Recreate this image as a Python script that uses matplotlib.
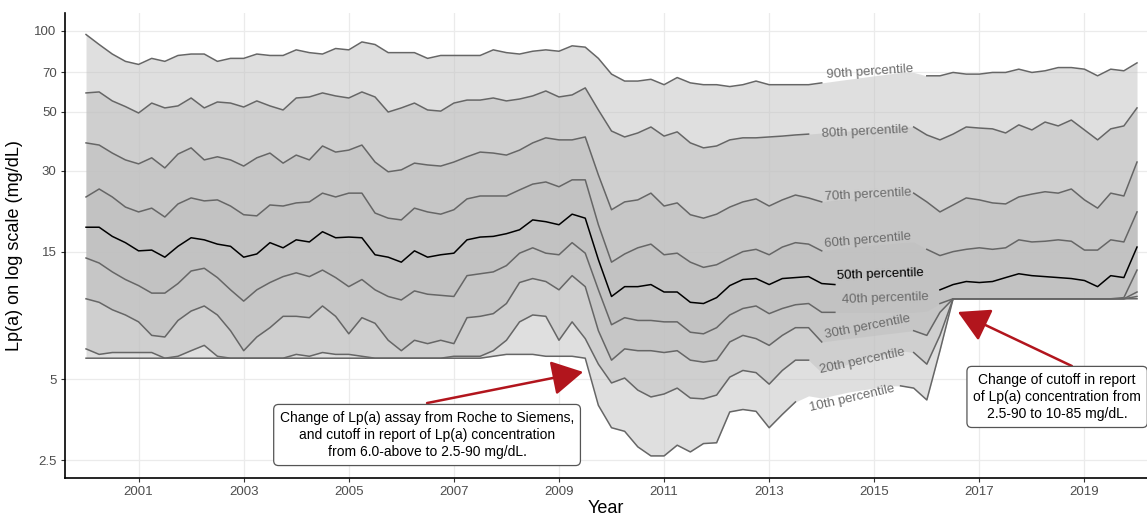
import numpy as np
import matplotlib
matplotlib.use('Agg')
import matplotlib.pyplot as plt
from matplotlib.ticker import NullLocator, FixedLocator

plt.rcParams['font.family'] = ['Liberation Sans', 'DejaVu Sans']

# quarterly time grid, 2000.0 .. 2020.0
years = np.arange(2000, 2020.01, 0.25)

p90 = [97, 89, 82, 77, 75, 79, 77, 81, 82, 82,
       77, 79, 79, 82, 81, 81, 85, 83, 82, 86,
       85, 91, 89, 83, 83, 83, 79, 81, 81, 81,
       81, 85, 83, 82, 84, 85, 84, 88, 87, 79,
       69, 65, 65, 66, 63, 67, 64, 63, 63, 62,
       63, 65, 63, 63, 63, 63, 64, 65, 66, 67,
       68, 69, 70, 70, 68, 68, 70, 69, 69, 70,
       70, 72, 70, 71, 73, 73, 72, 68, 72, 71, 76]
p80 = [58.7, 59.2, 54.8, 52.2, 49.4, 53.8, 51.6, 52.5, 56.2, 51.6,
       54.3, 53.8, 52.0, 54.8, 52.5, 50.7, 56.2, 56.7, 58.7, 57.2,
       56.2, 59.2, 56.7, 49.8, 51.6, 53.8, 50.7, 50.2, 53.8, 55.2,
       55.2, 56.2, 54.8, 55.7, 57.2, 59.7, 56.7, 57.7, 61.3, 50.7,
       42.3, 40.2, 41.6, 43.8, 40.5, 42.0, 38.2, 36.6, 37.2, 39.2,
       39.9, 39.9, 40.2, 40.5, 40.9, 41.2, 41.6, 42.0, 42.3, 42.7,
       43.1, 43.4, 43.8, 43.8, 40.9, 39.2, 41.2, 43.8, 43.4, 43.1,
       41.6, 44.6, 42.7, 45.7, 44.2, 46.5, 42.7, 39.2, 43.1, 44.2, 51.6]
p70 = [38.2, 37.5, 35.0, 33.0, 31.9, 33.6, 30.8, 34.7, 36.6, 33.0,
       33.9, 33.0, 31.3, 33.6, 35.0, 32.1, 34.4, 33.0, 37.2, 35.3,
       35.9, 37.5, 32.4, 29.8, 30.3, 32.1, 31.6, 31.3, 32.4, 33.9,
       35.3, 35.0, 34.4, 35.9, 38.2, 39.9, 39.2, 39.2, 40.2, 29.0,
       21.5, 23.0, 23.4, 24.8, 22.2, 22.8, 20.6, 20.0, 20.7, 22.0,
       23.0, 23.6, 22.2, 23.4, 24.4, 23.8, 23.0, 23.4, 23.6, 23.8,
       24.0, 24.2, 24.4, 24.8, 23.0, 21.1, 22.4, 23.8, 23.4, 22.8,
       22.6, 24.0, 24.6, 25.1, 24.8, 25.7, 23.4, 21.8, 24.8, 24.2, 32.4]
p60 = [24.0, 25.7, 24.0, 22.0, 21.1, 21.8, 20.2, 22.6, 23.8, 23.2,
       23.4, 22.2, 20.6, 20.4, 22.4, 22.2, 22.8, 23.0, 24.8, 24.0,
       24.8, 24.8, 20.9, 20.0, 19.7, 21.8, 21.1, 20.7, 21.5, 23.6,
       24.2, 24.2, 24.2, 25.5, 26.8, 27.3, 26.2, 27.8, 27.8, 18.9,
       13.7, 14.7, 15.5, 16.0, 14.6, 14.8, 13.7, 13.1, 13.4, 14.2,
       15.0, 15.3, 14.6, 15.6, 16.2, 16.0, 15.1, 15.3, 15.6, 15.7,
       15.9, 16.0, 16.2, 16.3, 15.3, 14.5, 15.0, 15.3, 15.5, 15.3,
       15.5, 16.6, 16.3, 16.4, 16.6, 16.4, 15.2, 15.2, 16.6, 16.3, 21.1]
p50 = [18.5, 18.5, 17.1, 16.2, 15.1, 15.2, 14.3, 15.7, 16.9, 16.6,
       16.0, 15.7, 14.3, 14.7, 16.2, 15.5, 16.6, 16.3, 17.8, 16.9,
       17.0, 16.9, 14.6, 14.3, 13.7, 15.1, 14.3, 14.6, 14.8, 16.6,
       17.0, 17.1, 17.5, 18.1, 19.7, 19.4, 18.9, 20.7, 20.0, 14.0,
       10.2, 11.1, 11.1, 11.3, 10.6, 10.6, 9.7, 9.6, 10.1, 11.2,
       11.8, 11.9, 11.3, 11.9, 12.0, 12.1, 11.4, 11.3, 11.2, 11.1,
       11.1, 11.1, 11.2, 11.3, 11.5, 10.8, 11.3, 11.6, 11.5, 11.6,
       12.0, 12.4, 12.2, 12.1, 12.0, 11.9, 11.7, 11.1, 12.2, 12.0, 15.6]
p40 = [14.2, 13.6, 12.6, 11.8, 11.2, 10.5, 10.5, 11.4, 12.7, 13.0,
       12.0, 10.8, 9.8, 10.8, 11.5, 12.1, 12.5, 12.1, 12.8, 12.0,
       11.1, 11.8, 10.8, 10.2, 9.9, 10.7, 10.4, 10.3, 10.2, 12.2,
       12.4, 12.6, 13.3, 14.8, 15.5, 14.8, 14.6, 16.2, 14.8, 10.8,
       8.0, 8.5, 8.3, 8.3, 8.2, 8.2, 7.5, 7.4, 7.8, 8.7,
       9.2, 9.4, 8.8, 9.2, 9.5, 9.6, 8.9, 8.9, 8.9, 8.9,
       8.9, 8.9, 8.9, 8.9, 9.0, 9.6, 10.0, 10.0, 10.0, 10.0,
       10.0, 10.0, 10.0, 10.0, 10.0, 10.0, 10.0, 10.0, 10.0, 10.1, 12.8]
p30 = [10.0, 9.7, 9.1, 8.7, 8.2, 7.3, 7.2, 8.3, 9.0, 9.4,
       8.7, 7.6, 6.4, 7.2, 7.8, 8.6, 8.6, 8.5, 9.4, 8.6,
       7.4, 8.5, 8.1, 7.0, 6.4, 7.0, 6.8, 7.0, 6.8, 8.5,
       8.6, 8.8, 9.6, 11.5, 11.9, 11.6, 10.8, 12.2, 11.1, 7.6,
       5.9, 6.5, 6.4, 6.4, 6.3, 6.4, 5.9, 5.8, 5.9, 6.9,
       7.3, 7.1, 6.7, 7.3, 7.8, 7.8, 6.9, 7.0, 7.1, 7.2,
       7.3, 7.4, 7.5, 7.6, 7.3, 8.9, 10.0, 10.0, 10.0, 10.0,
       10.0, 10.0, 10.0, 10.0, 10.0, 10.0, 10.0, 10.0, 10.0, 10.0, 10.6]
p20 = [6.5, 6.2, 6.3, 6.3, 6.3, 6.3, 6.0, 6.1, 6.4, 6.7,
       6.1, 6.0, 6.0, 6.0, 6.0, 6.0, 6.2, 6.1, 6.3, 6.2,
       6.2, 6.1, 6.0, 6.0, 6.0, 6.0, 6.0, 6.0, 6.1, 6.1,
       6.1, 6.4, 7.0, 8.2, 8.7, 8.6, 7.0, 8.2, 7.1, 5.7,
       4.85, 5.06, 4.56, 4.30, 4.41, 4.64, 4.26, 4.23, 4.37, 5.1,
       5.4, 5.3, 4.8, 5.4, 5.9, 5.9, 5.3, 5.5, 5.7, 5.9,
       6.1, 6.2, 6.4, 6.3, 5.7, 7.3, 10.0, 10.0, 10.0, 10.0,
       10.0, 10.0, 10.0, 10.0, 10.0, 10.0, 10.0, 10.0, 10.0, 10.0, 10.2]
p10 = [6.0, 6.0, 6.0, 6.0, 6.0, 6.0, 6.0, 6.0, 6.0, 6.0,
       6.0, 6.0, 6.0, 6.0, 6.0, 6.0, 6.0, 6.0, 6.0, 6.0,
       6.0, 6.0, 6.0, 6.0, 6.0, 6.0, 6.0, 6.0, 6.0, 6.0,
       6.0, 6.1, 6.2, 6.2, 6.2, 6.1, 6.1, 6.1, 6.0, 4.0,
       3.3, 3.2, 2.8, 2.59, 2.59, 2.84, 2.68, 2.88, 2.9, 3.78,
       3.86, 3.8, 3.3, 3.7, 4.12, 4.34, 4.26, 4.37, 4.48, 4.56,
       4.64, 4.73, 4.73, 4.64, 4.19, 6.4, 10.0, 10.0, 10.0, 10.0,
       10.0, 10.0, 10.0, 10.0, 10.0, 10.0, 10.0, 10.0, 10.0, 10.0, 10.0]

names = ['10th percentile', '20th percentile', '30th percentile', '40th percentile',
         '50th percentile', '60th percentile', '70th percentile', '80th percentile',
         '90th percentile']
series = [p10, p20, p30, p40, p50, p60, p70, p80, p90]

# label placement (centre x, centre y, angle) and the gap cut in the line under it
label_pos = [(2014.58, 4.26, 13), (2014.77, 5.86, 12), (2014.88, 7.85, 11),
             (2015.20, 10.0, 2), (2015.11, 12.3, 2), (2014.88, 16.6, 5),
             (2014.88, 24.4, 3), (2014.82, 42.0, 3), (2014.92, 70.3, 4)]
gaps = [(2013.74, 2015.40), (2013.98, 2015.63), (2014.04, 2015.72),
        (2014.35, 2016.06), (2014.25, 2016.02), (2014.06, 2015.78),
        (2014.04, 2015.72), (2013.98, 2015.68), (2014.06, 2015.78)]

fig = plt.figure(figsize=(11.47, 5.19), dpi=100)
ax = fig.add_axes([65/1147, 41/519, 1082/1147, 465/519])
ax.set_yscale('log')

# stacked ribbons
for lo, hi in [(p10, p90), (p20, p80), (p30, p70), (p40, p60)]:
    ax.fill_between(years, lo, hi, color='#bebebe', alpha=0.48, lw=0, zorder=1)

for i, vals in enumerate(series):
    y = np.array(vals, dtype=float)
    g0, g1 = gaps[i]
    y[(years > g0) & (years < g1)] = np.nan
    col = 'black' if i == 4 else '#666666'
    ax.plot(years, y, color=col, lw=1.1, zorder=3)
    lx, ly, rot = label_pos[i]
    tcol = 'black' if i == 4 else '#6b6b6b'
    ax.text(lx, ly, names[i], rotation=rot, rotation_mode='anchor',
            ha='center', va='center', fontsize=9.5, color=tcol, zorder=4)

# annotations
arrow_col = '#B2151D'
ax.annotate('', xy=(2009.46, 5.33), xytext=(2006.49, 4.08),
            arrowprops=dict(arrowstyle='-|>,head_length=0.97,head_width=0.54',
                            color=arrow_col, lw=1.8, mutation_scale=20,
                            shrinkA=0, shrinkB=0), zorder=5)
ax.annotate('', xy=(2016.59, 8.93), xytext=(2018.76, 5.61),
            arrowprops=dict(arrowstyle='-|>,head_length=0.97,head_width=0.54',
                            color=arrow_col, lw=1.8, mutation_scale=20,
                            shrinkA=0, shrinkB=0), zorder=5)

box = dict(boxstyle='round,pad=0.45,rounding_size=0.35', fc='white', ec='#555555', lw=0.9)
ax.text(2006.49, 3.10, 'Change of Lp(a) assay from Roche to Siemens,\n'
        'and cutoff in report of Lp(a) concentration\nfrom 6.0-above to 2.5-90 mg/dL.',
        ha='center', va='center', multialignment='center', fontsize=10,
        linespacing=1.3, bbox=box, zorder=6)
ax.text(2018.48, 4.30, 'Change of cutoff in report\nof Lp(a) concentration from\n'
        '2.5-90 to 10-85 mg/dL.',
        ha='center', va='center', multialignment='center', fontsize=10,
        linespacing=1.3, bbox=box, zorder=6)

ax.set_xlim(1999.6, 2020.19)
ax.set_ylim(2.142, 116.7)
ax.xaxis.set_major_locator(FixedLocator(list(range(2001, 2020, 2))))
ax.yaxis.set_major_locator(FixedLocator([2.5, 5, 15, 30, 50, 70, 100]))
ax.yaxis.set_minor_locator(NullLocator())
ax.xaxis.set_minor_locator(NullLocator())
ax.set_yticklabels(['2.5', '5', '15', '30', '50', '70', '100'])
ax.set_xticklabels([str(y) for y in range(2001, 2020, 2)])

ax.grid(True, color='#ebebeb', lw=0.9)
ax.set_axisbelow(True)
for s in ['top', 'right']:
    ax.spines[s].set_visible(False)
for s in ['left', 'bottom']:
    ax.spines[s].set_color('black')
    ax.spines[s].set_linewidth(1.2)
ax.tick_params(length=3, width=0.8, color='#333333', labelsize=9.5,
               labelcolor='#4d4d4d', pad=3)
ax.set_xlabel('Year', fontsize=13, labelpad=1)
ax.set_ylabel('Lp(a) on log scale (mg/dL)', fontsize=13, labelpad=8)

fig.savefig('out.png', dpi=100)
